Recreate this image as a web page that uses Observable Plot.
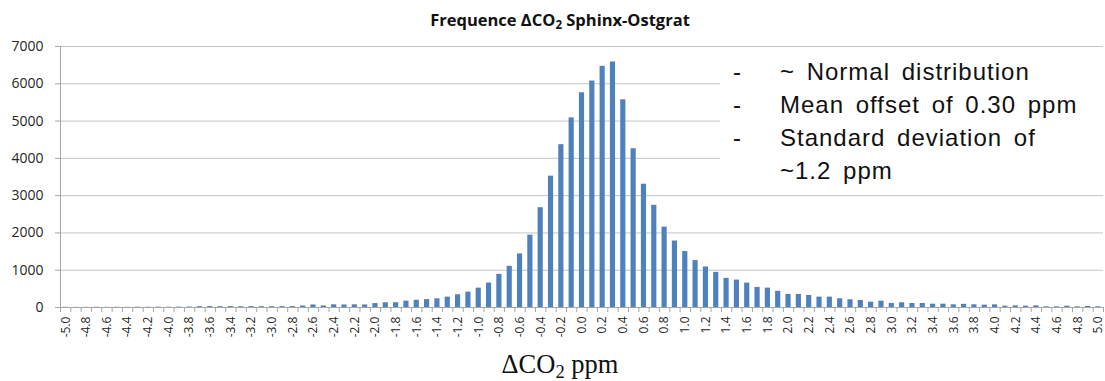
<!DOCTYPE html>
<html><head><meta charset="utf-8">
<script src="https://cdn.jsdelivr.net/npm/d3@7"></script>
<script src="https://cdn.jsdelivr.net/npm/@observablehq/plot@0.6"></script>
<style>
body{margin:0;background:#fff;}
#wrap{position:relative;width:1105px;height:381px;overflow:hidden;}
#title{position:relative;top:5px;height:30px;line-height:30px;width:1105px;box-sizing:border-box;padding-left:15px;text-align:center;font-family:"Open Sans";font-weight:bold;font-size:16.5px;color:#111;}
#chart{height:320px;}
#xtitle{height:28px;line-height:28px;width:1105px;box-sizing:border-box;padding-left:15px;text-align:center;font-family:"Liberation Serif";font-size:26.5px;color:#111;white-space:nowrap;}
.sub{font-size:0.7em;vertical-align:-0.25em;line-height:0;}
#note{position:absolute;left:720px;top:55px;width:385px;height:138px;background:#fff;font-family:"Liberation Sans";font-size:24px;line-height:33px;color:#111;letter-spacing:1px;word-spacing:4px;}
#note .ln{position:relative;height:33px;white-space:nowrap;}
#note .d{position:absolute;left:13px;top:0;}
#note .t{position:absolute;left:60px;top:0;}
</style></head>
<body>
<div id="wrap">
<div id="title">Frequence ΔCO<span class="sub">2</span> Sphinx-Ostgrat</div>
<div id="chart"></div>
<div id="xtitle">ΔCO<span class="sub">2</span> ppm</div>
<div id="note">
  <div class="ln"><span class="d">-</span><span class="t">~ Normal distribution</span></div>
  <div class="ln"><span class="d">-</span><span class="t">Mean offset of 0.30 ppm</span></div>
  <div class="ln"><span class="d">-</span><span class="t">Standard deviation of</span></div>
  <div class="ln"><span class="t">~1.2 ppm</span></div>
</div>
</div>
<script>
const deltaCO2 = [-5.0,-4.9,-4.8,-4.7,-4.6,-4.5,-4.4,-4.3,-4.2,-4.1,-4.0,-3.9,-3.8,-3.7,-3.6,-3.5,-3.4,-3.3,-3.2,-3.1,
  -3.0,-2.9,-2.8,-2.7,-2.6,-2.5,-2.4,-2.3,-2.2,-2.1,-2.0,-1.9,-1.8,-1.7,-1.6,-1.5,-1.4,-1.3,-1.2,-1.1,
  -1.0,-0.9,-0.8,-0.7,-0.6,-0.5,-0.4,-0.3,-0.2,-0.1,0.0,0.1,0.2,0.3,0.4,0.5,0.6,0.7,0.8,0.9,
  1.0,1.1,1.2,1.3,1.4,1.5,1.6,1.7,1.8,1.9,2.0,2.1,2.2,2.3,2.4,2.5,2.6,2.7,2.8,2.9,
  3.0,3.1,3.2,3.3,3.4,3.5,3.6,3.7,3.8,3.9,4.0,4.1,4.2,4.3,4.4,4.5,4.6,4.7,4.8,4.9,5.0];
const frequency = [5,3,4,6,4,7,5,8,6,9,8,10,12,22,25,22,25,22,25,22,
  22,24,25,40,68,42,72,68,72,68,105,126,128,170,193,212,233,278,342,412,
  520,655,889,1105,1437,1941,2677,3523,4367,5086,5760,6073,6469,6585,5571,4259,3307,2741,2156,1783,
  1501,1258,1086,943,782,736,655,539,520,435,350,350,323,278,278,234,207,189,143,170,
  108,126,108,108,89,89,72,85,72,63,72,36,45,36,45,18,18,36,18,27,18];
const xTickLabels = ["-5.0","-4.8","-4.6","-4.4","-4.2","-4.0","-3.8","-3.6","-3.4","-3.2","-3.0","-2.8","-2.6","-2.4","-2.2","-2.0",
  "-1.8","-1.6","-1.4","-1.2","-1.0","-0.8","-0.6","-0.4","-0.2","0.0","0.2","0.4","0.6","0.8","1.0","1.2","1.4","1.6","1.8","2.0",
  "2.2","2.4","2.6","2.8","3.0","3.2","3.4","3.6","3.8","4.0","4.2","4.4","4.6","4.8","5.0"];
const yTicks = [0,1000,2000,3000,4000,5000,6000,7000];

const binWidth = 0.1;
const data = deltaCO2.map((x, i) => ({x, n: frequency[i]}));
const boundaries = deltaCO2.map(x => x - binWidth / 2).concat([deltaCO2[deltaCO2.length - 1] + binWidth / 2]);
const xTickValues = xTickLabels.map(Number);
const xDomain = [boundaries[0], boundaries[boundaries.length - 1]];

const chart = Plot.plot({
  width: 1105, height: 320,
  marginLeft: 60, marginRight: 2, marginTop: 16, marginBottom: 43,
  style: {fontFamily: '"Open Sans"', background: "#fff", color: "#333"},
  x: {domain: xDomain},
  y: {domain: [0, 7000]},
  marks: [
    Plot.gridY(yTicks, {stroke: "#c4c4c4", strokeOpacity: 1}),
    Plot.rectY(data, {x1: d => d.x - binWidth / 4, x2: d => d.x + binWidth / 4, y: "n", fill: "#4f81bd"}),
    Plot.ruleY([0], {stroke: "#a6a6a6"}),
    Plot.ruleX([xDomain[0]], {y1: 0, y2: 7000, stroke: "#a6a6a6"}),
    Plot.axisY(yTicks, {tickSize: 5, tickPadding: 12, fontSize: 14, stroke: "#a6a6a6", fill: "#262626", label: null,
      tickFormat: d => String(d)}),
    Plot.axisX(boundaries, {tickSize: 5, tickFormat: () => "", stroke: "#a6a6a6", label: null}),
    Plot.axisX(xTickValues, {tickSize: 0, tickPadding: 9, tickRotate: -90, fontSize: 12, fill: "#262626", label: null,
      tickFormat: d => xTickLabels[xTickValues.indexOf(d)]})
  ]
});
document.getElementById("chart").appendChild(chart);
</script>
</body></html>
